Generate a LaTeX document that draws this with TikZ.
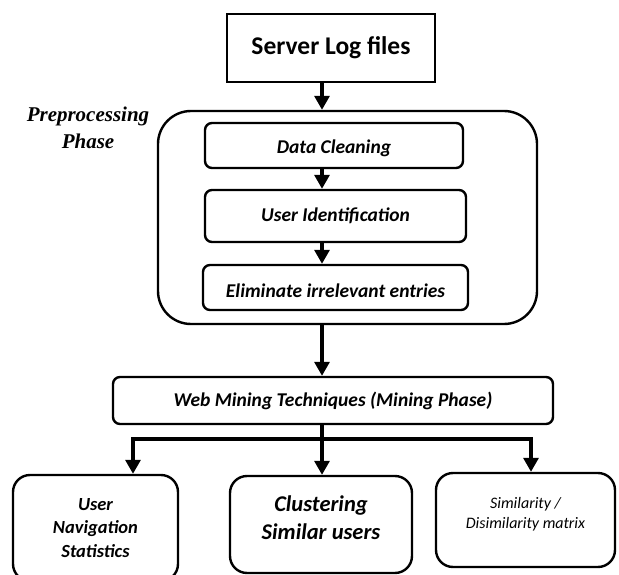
\documentclass[tikz,border=0pt]{standalone}
\usepackage{fontspec}
\setmainfont{Carlito}
\newfontfamily\phasefont{Liberation Serif}
\usetikzlibrary{arrows.meta}

\begin{document}
\begin{tikzpicture}[x=1pt,y=-1pt,
    box/.style={draw, line width=2.4pt, rounded corners=7pt, inner sep=0pt,
        font=\bfseries\itshape\fontsize{19.5}{22}\selectfont},
    leaf/.style={box, rounded corners=17pt, align=center},
    arr/.style={line width=3.2pt, -{Triangle[width=15pt,length=14pt]}}]
    \useasboundingbox (0,0) rectangle (619,575);
    % input and preprocessing block
    \node[draw, line width=2.2pt, minimum width=208pt, minimum height=68pt,
        font=\bfseries\fontsize{25.5}{28}\selectfont] (logs) at (331,48) {Server Log files};
    \node[box, rounded corners=33pt, minimum width=379pt, minimum height=213pt] (pre) at (347.5,217.5) {};
    \node[font=\phasefont\bfseries\itshape\fontsize{21}{27}\selectfont, align=center] (phase) at (88,128) {Preprocessing\\Phase};
    \node[box, minimum width=258pt, minimum height=45pt, text height=20pt] (clean) at (334,145.5) {Data Cleaning};
    \node[box, minimum width=261pt, minimum height=52pt] (ident) at (335.5,216) {User Identification};
    \node[box, minimum width=265pt, minimum height=45pt, text height=20pt] (elim) at (335.5,287.5) {Eliminate irrelevant entries};
    % mining block
    \node[box, minimum width=440pt, minimum height=47pt] (web) at (333,400.5) {Web Mining Techniques (Mining Phase)};
    \node[leaf, minimum width=165pt, minimum height=106pt, font=\bfseries\itshape\fontsize{18.5}{23.5}\selectfont] (nav) at (95.5,528) {User\\Navigation\\Statistics};
    \node[leaf, minimum width=182pt, minimum height=97pt, text depth=13pt, font=\bfseries\itshape\fontsize{22.5}{28}\selectfont] (clus) at (321,524.5) {Clustering\\Similar users};
    \node[leaf, minimum width=179pt, minimum height=94pt, text depth=14pt, font=\itshape\fontsize{16}{20.5}\selectfont] (sim) at (525.5,520) {Similarity /\\Disimilarity matrix};
    % connectors
    \coordinate (spine) at (322,0);
    \draw[arr] (logs.south -| spine) -- (pre.north -| spine);
    \draw[arr] (clean.south -| spine) -- (ident.north -| spine);
    \draw[arr] (ident.south -| spine) -- (elim.north -| spine);
    \draw[arr] (pre.south -| spine) -- (web.north -| spine);
    \draw[line width=3.2pt] (web.south -| spine) -- (322,439);
    \foreach \n/\x in {nav/133, clus/322, sim/531} {
        \coordinate (t\n) at (\x,439);
        \draw[arr] (t\n) -- (t\n |- \n.north);
    }
    \draw[line width=3.2pt, line cap=rect] (tnav) -- (tsim);
\end{tikzpicture}
\end{document}
